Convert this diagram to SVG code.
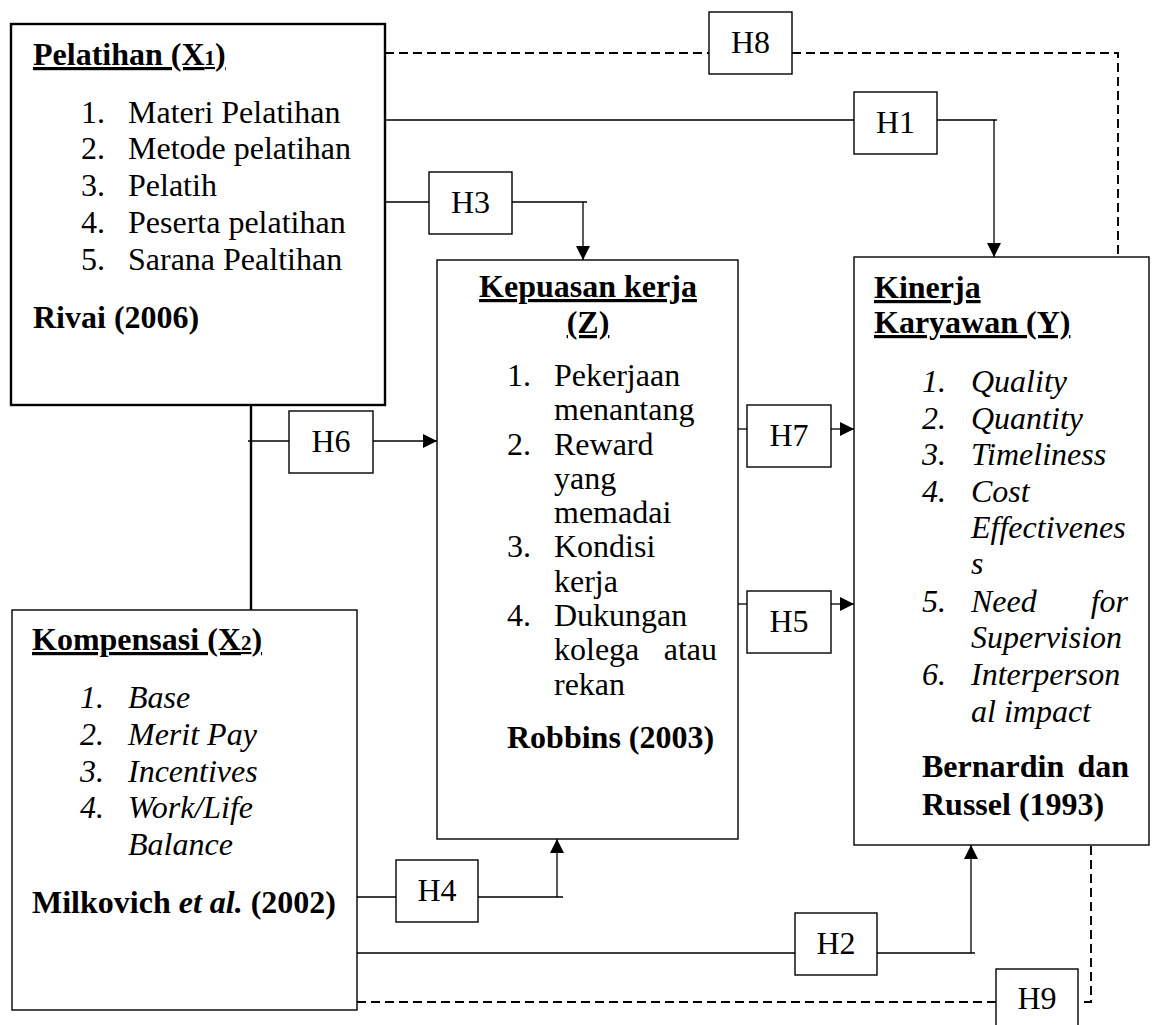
<svg xmlns="http://www.w3.org/2000/svg" width="1155" height="1025" viewBox="0 0 1155 1025">
<style>
text{font-family:'Liberation Serif','Times New Roman',serif;font-size:32px;fill:#000}
.b{font-weight:bold}
.i{font-style:italic}
.u{text-decoration:underline}
.m{text-anchor:middle}
.e{text-anchor:end}
.box{fill:#fff;stroke:#000;stroke-width:1.4}
.thick{fill:#fff;stroke:#000;stroke-width:2.4}
.ln{fill:none;stroke:#000;stroke-width:1.3}
.dash{fill:none;stroke:#000;stroke-width:1.9;stroke-dasharray:9 5}
.arr{fill:none;stroke:#000;stroke-width:1.3;marker-end:url(#ah)}
</style>
<defs>
<marker id="ah" markerUnits="userSpaceOnUse" markerWidth="14" markerHeight="14" refX="14" refY="7" orient="auto">
<path d="M0,0 L14,7 L0,14 z" fill="#000"/>
</marker>
</defs>
<rect width="1155" height="1025" fill="#fff"/>

<g id="connectors">
<path class="dash" d="M385,53 H709 M792,53 H1118 V257"/>
<path class="ln" d="M385,120 H854 M937,120 H997"/>
<path class="arr" d="M994,120 V257"/>
<path class="ln" d="M385,202 H429 M512,202 H587"/>
<path class="arr" d="M583,202 V260"/>
<path fill="none" stroke="#000" stroke-width="2.4" d="M251,405 V610"/>
<path class="ln" d="M248,441 H289"/>
<path class="arr" d="M373,441 H437"/>
<path class="ln" d="M738,429 H747"/>
<path class="arr" d="M831,429 H854"/>
<path class="ln" d="M738,604 H747"/>
<path class="arr" d="M831,604 H854"/>
<path class="ln" d="M357,897 H396 M478,897 H563"/>
<path class="arr" d="M557,897 V839"/>
<path class="ln" d="M357,953 H795 M877,953 H975"/>
<path class="arr" d="M971,953 V845"/>
<path class="dash" d="M357,1002 H996 M1084,1002 H1091 V845"/>
</g>

<g id="node-x1">
<rect class="thick" x="11" y="24" width="374" height="381"/>
<text class="b u" x="33" y="65">Pelatihan (X<tspan font-size="21">1</tspan>)</text>
<text x="81" y="123">1.</text><text x="128" y="123">Materi Pelatihan</text>
<text x="81" y="159">2.</text><text x="128" y="159">Metode pelatihan</text>
<text x="81" y="196">3.</text><text x="128" y="196">Pelatih</text>
<text x="81" y="233">4.</text><text x="128" y="233">Peserta pelatihan</text>
<text x="81" y="270">5.</text><text x="128" y="270">Sarana Pealtihan</text>
<text class="b" x="33" y="328">Rivai (2006)</text>
</g>

<g id="node-z">
<rect class="box" x="437" y="260" width="301" height="579"/>
<text class="b u m" x="588" y="297">Kepuasan kerja</text>
<text class="b u m" x="588" y="333">(Z)</text>
<text x="507" y="386">1.</text><text x="554" y="386">Pekerjaan</text>
<text x="554" y="420">menantang</text>
<text x="507" y="455">2.</text><text x="554" y="455">Reward</text>
<text x="554" y="489">yang</text>
<text x="554" y="523">memadai</text>
<text x="507" y="557">3.</text><text x="554" y="557">Kondisi</text>
<text x="554" y="592">kerja</text>
<text x="507" y="626">4.</text><text x="554" y="626">Dukungan</text>
<text x="554" y="660">kolega</text><text class="e" x="717" y="660">atau</text>
<text x="554" y="695">rekan</text>
<text class="b" x="507" y="748">Robbins (2003)</text>
</g>

<g id="node-y">
<rect class="box" x="854" y="257" width="295" height="588"/>
<text class="b u" x="874" y="298">Kinerja</text>
<text class="b u" x="874" y="333">Karyawan (Y)</text>
<text class="i" x="922" y="392">1.</text><text class="i" x="971" y="392">Quality</text>
<text class="i" x="922" y="429">2.</text><text class="i" x="971" y="429">Quantity</text>
<text class="i" x="922" y="465">3.</text><text class="i" x="971" y="465">Timeliness</text>
<text class="i" x="922" y="502">4.</text><text class="i" x="971" y="502">Cost</text>
<text class="i" x="971" y="538">Effectivenes</text>
<text class="i" x="971" y="574">s</text>
<text class="i" x="922" y="612">5.</text><text class="i" x="971" y="612">Need</text><text class="i e" x="1128" y="612">for</text>
<text class="i" x="971" y="648">Supervision</text>
<text class="i" x="922" y="685">6.</text><text class="i" x="971" y="685">Interperson</text>
<text class="i" x="971" y="722">al impact</text>
<text class="b" x="922" y="777">Bernardin</text><text class="b e" x="1129" y="777">dan</text>
<text class="b" x="922" y="815">Russel (1993)</text>
</g>

<g id="node-x2">
<rect class="box" x="12" y="610" width="345" height="400"/>
<text class="b u" x="32" y="650">Kompensasi (X<tspan font-size="21">2</tspan>)</text>
<text class="i" x="80" y="708">1.</text><text class="i" x="128" y="708">Base</text>
<text class="i" x="80" y="745">2.</text><text class="i" x="128" y="745">Merit Pay</text>
<text class="i" x="80" y="782">3.</text><text class="i" x="128" y="782">Incentives</text>
<text class="i" x="80" y="818">4.</text><text class="i" x="128" y="818">Work/Life</text>
<text class="i" x="128" y="855">Balance</text>
<text class="b" x="32" y="913">Milkovich <tspan class="i">et al.</tspan> (2002)</text>
</g>

<g id="h8"><rect class="box" x="709" y="12" width="83" height="62"/><text class="m" x="750.5" y="53">H8</text></g>
<g id="h1"><rect class="box" x="854" y="92" width="83" height="62"/><text class="m" x="895.5" y="133">H1</text></g>
<g id="h3"><rect class="box" x="429" y="172" width="83" height="62"/><text class="m" x="470.5" y="213">H3</text></g>
<g id="h6"><rect class="box" x="289" y="411" width="84" height="62"/><text class="m" x="331" y="452">H6</text></g>
<g id="h7"><rect class="box" x="747" y="405" width="84" height="62"/><text class="m" x="789" y="446">H7</text></g>
<g id="h5"><rect class="box" x="747" y="591" width="84" height="62"/><text class="m" x="789" y="632">H5</text></g>
<g id="h4"><rect class="box" x="396" y="860" width="82" height="62"/><text class="m" x="437" y="901">H4</text></g>
<g id="h2"><rect class="box" x="795" y="913" width="82" height="62"/><text class="m" x="836" y="954">H2</text></g>
<g id="h9"><rect class="box" x="996" y="969" width="82" height="66"/><text class="m" x="1037" y="1009">H9</text></g>
</svg>
